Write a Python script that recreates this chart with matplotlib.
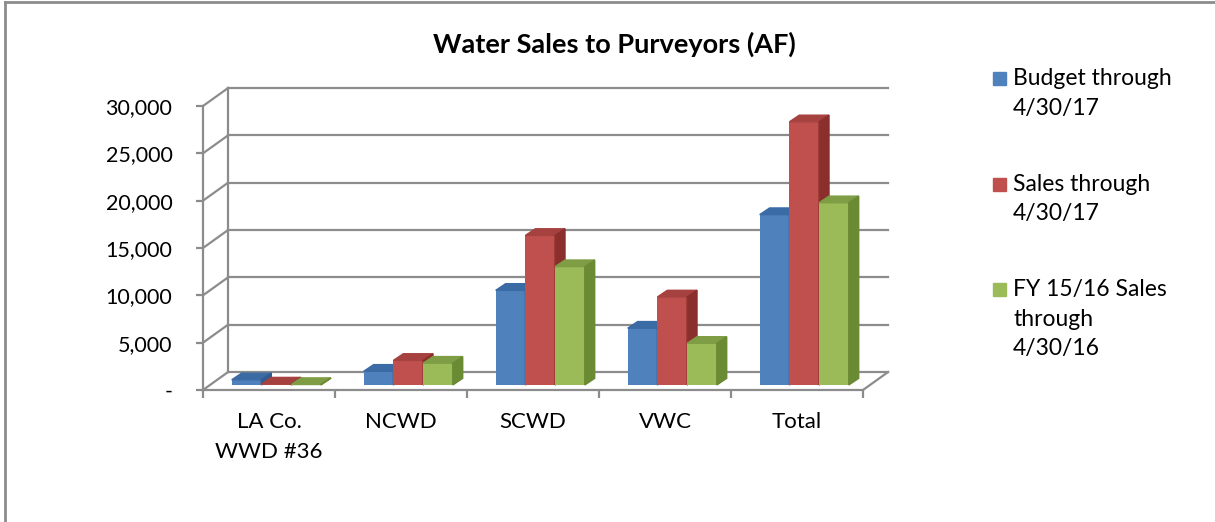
import matplotlib.pyplot as plt
from matplotlib.patches import Rectangle
from matplotlib.lines import Line2D

plt.rcParams['font.family'] = ['Lato', 'DejaVu Sans']

# Data
categories = ['LA Co.\nWWD #36', 'NCWD', 'SCWD', 'VWC', 'Total']
budget = [550, 1450, 10000, 6000, 18000]
sales = [100, 2600, 15800, 9300, 27800]
prior = [50, 2300, 12500, 4400, 19250]
series_names = ['Budget through\n4/30/17', 'Sales through\n4/30/17',
                'FY 15/16 Sales\nthrough\n4/30/16']
yticks = [0, 5000, 10000, 15000, 20000, 25000, 30000]

front = ['#4F81BD', '#C0504D', '#9BBB59']
top = ['#3B6BA5', '#A5413E', '#7E9D45']
side = ['#2F5B90', '#8B2F2C', '#6A8A33']
grid = '#8C8C8C'

# fake 3d offsets (data units)
dx, dy = 0.19, 1900        # back wall
fx, fy = 0.055, 530        # bar front plane
bdx, bdy = 0.075, 700      # bar depth
w = 0.225

W, H = 1215, 522
fig = plt.figure(figsize=(W / 100, H / 100), dpi=100)
ax = fig.add_axes([203 / W, 132 / H, 5.2 * 132 / W, 32000 * 284 / 30000 / H])
ax.set_xlim(0, 5.2)
ax.set_ylim(0, 32000)

# walls and gridlines
for v in yticks:
    ax.plot([0, dx], [v, v + dy], color=grid, lw=1.6, zorder=1, clip_on=False)
    ax.plot([dx, 5 + dx], [v + dy, v + dy], color=grid, lw=1.6, zorder=1, clip_on=False)
ax.plot([dx, dx], [dy, yticks[-1] + dy], color=grid, lw=1.6, zorder=1, clip_on=False)
ax.plot([5, 5 + dx], [0, dy], color=grid, lw=1.6, zorder=1, clip_on=False)

# bars
z = 2
for i in range(len(categories)):
    for j, vals in enumerate([budget, sales, prior]):
        x0 = i + 0.5 + fx + (j - 1.5) * w
        x1 = x0 + w
        v = vals[i]
        ax.bar(x0, v, width=w, bottom=fy, align='edge', color=front[j], zorder=z)
        ax.fill([x0, x1, x1 + bdx, x0 + bdx], [fy + v, fy + v, fy + v + bdy, fy + v + bdy],
                color=top[j], zorder=z)
        ax.fill([x1, x1 + bdx, x1 + bdx, x1], [fy, fy + bdy, fy + v + bdy, fy + v],
                color=side[j], zorder=z)
        z += 1

# axes
for s in ['top', 'right']:
    ax.spines[s].set_visible(False)
for s in ['left', 'bottom']:
    ax.spines[s].set_color(grid)
    ax.spines[s].set_linewidth(1.6)
ax.spines['left'].set_bounds(0, 30000)
ax.spines['bottom'].set_bounds(0, 5)
ax.set_yticks(yticks)
ax.set_yticklabels(['-' if t == 0 else f'{t:,}' for t in yticks])
ax.set_xticks(range(6))
ax.set_xticklabels([])
ax.set_xticks([i + 0.5 for i in range(5)], minor=True)
ax.set_xticklabels(categories, minor=True)
ax.tick_params(axis='y', length=5, width=1.6, color=grid, labelsize=15.5, pad=17)
ax.tick_params(axis='x', which='major', length=6, width=1.6, color=grid)
ax.tick_params(axis='x', which='minor', length=0, labelsize=16, pad=16)
for t in ax.get_xticklabels(minor=True):
    t.set_linespacing(1.6)
ax.patch.set_visible(False)

fig.text(614 / W, 1 - 44 / H, 'Water Sales to Purveyors (AF)', ha='center', va='center',
         fontsize=19.5, fontweight='bold')

# legend (square aligned with first line of each entry)
leg_y = [78, 184, 289]
for j, name in enumerate(series_names):
    y = 1 - leg_y[j] / H
    fig.patches.append(Rectangle((993 / W, y - 6.5 / H), 13 / W, 13 / H,
                                 transform=fig.transFigure, color=front[j]))
    fig.text(1013 / W, y + 10 / H, name, ha='left', va='top', fontsize=16.5,
             linespacing=1.5)

# outer frame (left and top only)
fig.lines.append(Line2D([5 / W, 5 / W], [0, 1 - 1.5 / H], transform=fig.transFigure,
                        color=grid, lw=2))
fig.lines.append(Line2D([5 / W, 1], [1 - 1.5 / H, 1 - 1.5 / H], transform=fig.transFigure,
                        color=grid, lw=2))

fig.savefig('out.png', dpi=100)
